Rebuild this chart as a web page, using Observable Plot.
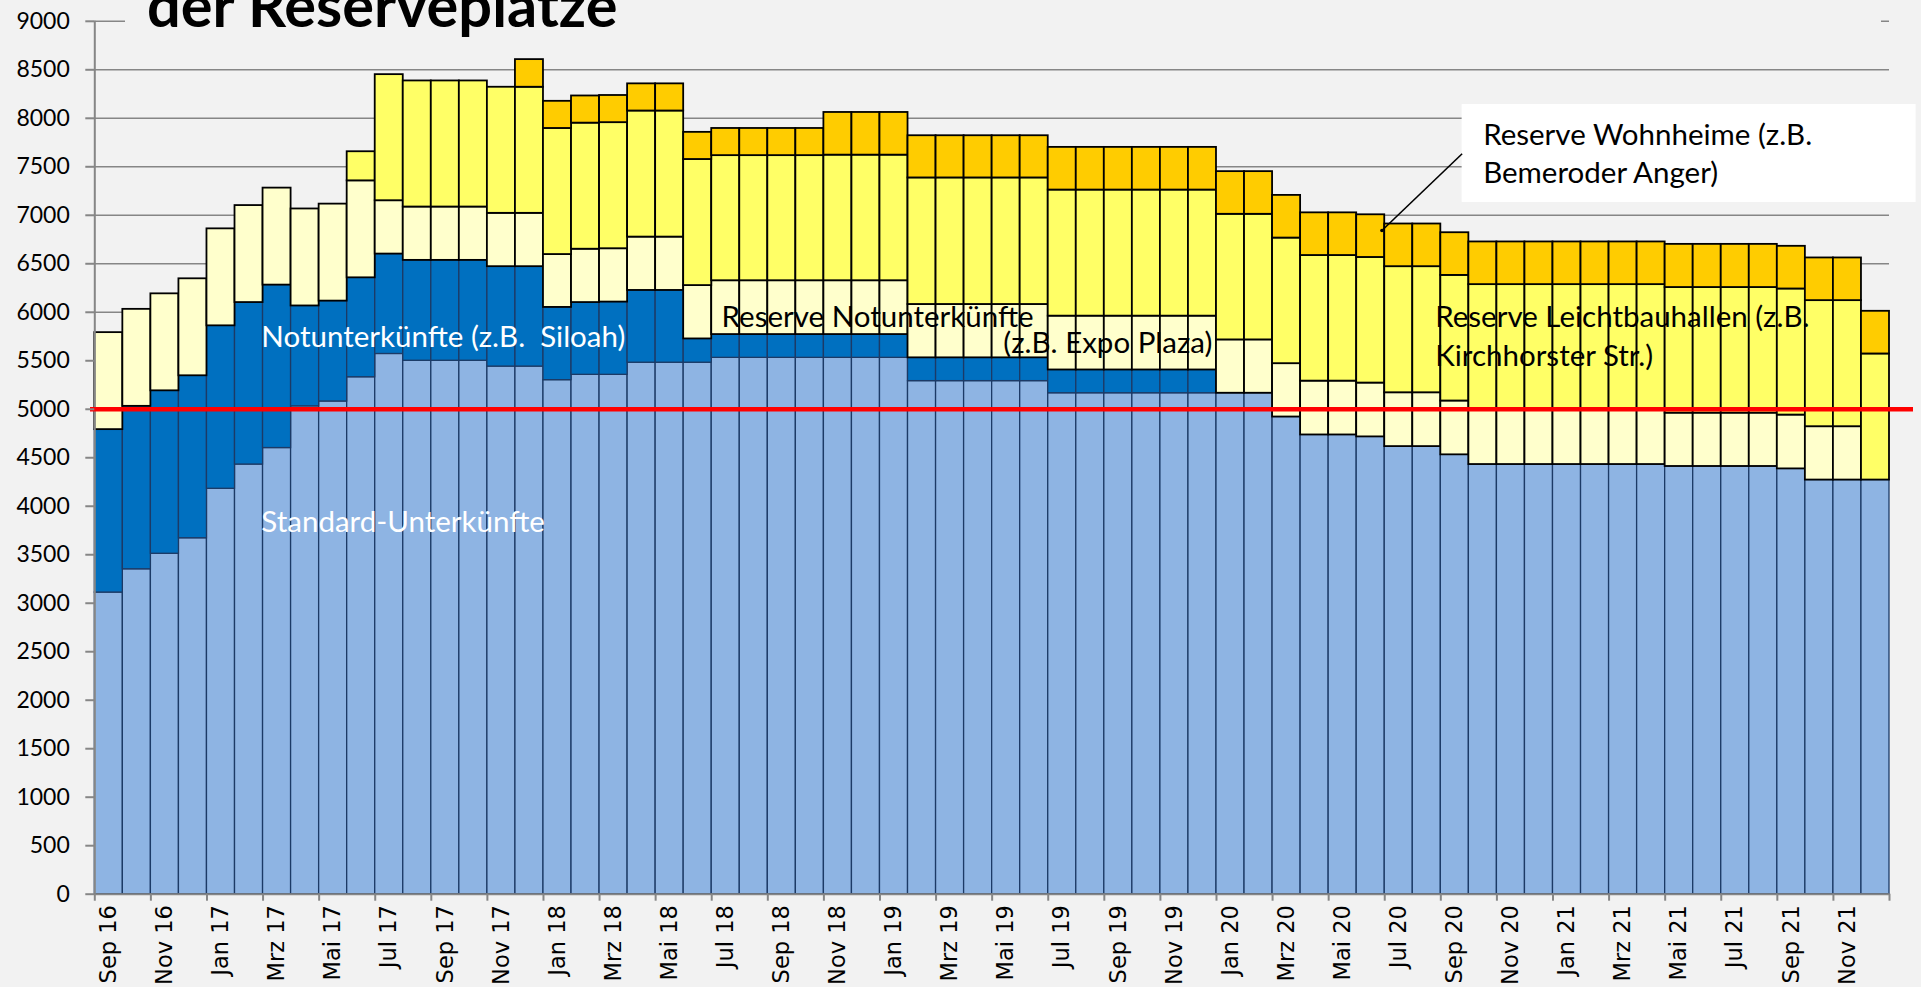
<!DOCTYPE html>
<html>
<head>
<meta charset="utf-8">
<script src="https://cdn.jsdelivr.net/npm/d3@7"></script>
<script src="https://cdn.jsdelivr.net/npm/@observablehq/plot@0.6"></script>
<style>
  html, body { margin: 0; padding: 0; background: #f2f2f2; }
  #wrap { position: relative; width: 1921px; height: 987px; overflow: hidden; background: #f2f2f2; }
  #overlay { position: absolute; left: 0; top: 0; pointer-events: none; }
</style>
</head>
<body>
<div id="wrap"></div>
<script>
// ---------- data ----------
const months = [
  "Sep 16","Okt 16","Nov 16","Dez 16",
  "Jan 17","Feb 17","Mrz 17","Apr 17","Mai 17","Jun 17","Jul 17","Aug 17","Sep 17","Okt 17","Nov 17","Dez 17",
  "Jan 18","Feb 18","Mrz 18","Apr 18","Mai 18","Jun 18","Jul 18","Aug 18","Sep 18","Okt 18","Nov 18","Dez 18",
  "Jan 19","Feb 19","Mrz 19","Apr 19","Mai 19","Jun 19","Jul 19","Aug 19","Sep 19","Okt 19","Nov 19","Dez 19",
  "Jan 20","Feb 20","Mrz 20","Apr 20","Mai 20","Jun 20","Jul 20","Aug 20","Sep 20","Okt 20","Nov 20","Dez 20",
  "Jan 21","Feb 21","Mrz 21","Apr 21","Mai 21","Jun 21","Jul 21","Aug 21","Sep 21","Okt 21","Nov 21","Dez 21"
];
const tickLabels = [
  "Sep 16","Nov 16","Jan 17","Mrz 17","Mai 17","Jul 17","Sep 17","Nov 17",
  "Jan 18","Mrz 18","Mai 18","Jul 18","Sep 18","Nov 18","Jan 19","Mrz 19",
  "Mai 19","Jul 19","Sep 19","Nov 19","Jan 20","Mrz 20","Mai 20","Jul 20",
  "Sep 20","Nov 20","Jan 21","Mrz 21","Mai 21","Jul 21","Sep 21","Nov 21"
];
const yTicks = [0,500,1000,1500,2000,2500,3000,3500,4000,4500,5000,5500,6000,6500,7000,7500,8000,8500,9000];

const standardUnterkuenfte = [
  3110, 3350, 3510, 3670,
  4180, 4430, 4600, 5030, 5080, 5330, 5570, 5500, 5500, 5500, 5440, 5440,
  5300, 5355, 5355, 5480, 5480, 5480, 5530, 5530, 5530, 5530, 5530, 5530,
  5530, 5290, 5290, 5290, 5290, 5290, 5165, 5165, 5165, 5165, 5165, 5165,
  5165, 5165, 4920, 4735, 4735, 4715, 4615, 4615, 4530, 4430, 4430, 4430,
  4430, 4430, 4430, 4430, 4410, 4410, 4410, 4410, 4385, 4270, 4270, 4270
];
const notunterkuenfte = [
  1680, 1680, 1680, 1675,
  1680, 1670, 1680, 1035, 1035, 1025, 1030, 1035, 1035, 1035, 1030, 1030,
  750, 745, 750, 745, 745, 245, 240, 240, 240, 240, 240, 240,
  240, 240, 240, 240, 240, 240, 240, 240, 240, 240, 240, 240,
  0, 0, 0, 0, 0, 0, 0, 0, 0, 0, 0, 0,
  0, 0, 0, 0, 0, 0, 0, 0, 0, 0, 0, 0
];
const reserveNotunterkuenfte = [
  1000, 1000, 1000, 1000,
  1000, 1000, 1000, 1000, 1000, 1000, 550, 550, 550, 550, 550, 550,
  545, 550, 550, 550, 550, 550, 555, 555, 555, 555, 555, 555,
  555, 550, 550, 550, 550, 550, 555, 555, 555, 555, 555, 555,
  550, 550, 550, 555, 555, 555, 555, 555, 555, 560, 560, 560,
  560, 560, 560, 560, 550, 550, 550, 550, 555, 550, 550, 0
];
const reserveLeichtbauhallen = [
  0, 0, 0, 0,
  0, 0, 0, 0, 0, 300, 1300, 1300, 1300, 1300, 1300, 1300,
  1300, 1300, 1300, 1300, 1300, 1300, 1290, 1290, 1290, 1290, 1295, 1295,
  1295, 1305, 1305, 1305, 1305, 1305, 1300, 1300, 1300, 1300, 1300, 1300,
  1295, 1295, 1295, 1295, 1295, 1295, 1300, 1300, 1295, 1295, 1295, 1295,
  1295, 1295, 1295, 1295, 1295, 1295, 1295, 1295, 1300, 1300, 1300, 1300
];
const reserveWohnheime = [
  0, 0, 0, 0,
  0, 0, 0, 0, 0, 0, 0, 0, 0, 0, 0, 285,
  280, 280, 280, 280, 280, 280, 280, 280, 280, 280, 440, 440,
  440, 435, 435, 435, 435, 435, 440, 440, 440, 440, 440, 440,
  440, 440, 440, 440, 440, 440, 440, 440, 440, 440, 440, 440,
  440, 440, 440, 440, 445, 445, 445, 445, 440, 440, 440, 440
];
const seriesNames = ["Standard-Unterkünfte", "Notunterkünfte", "Reserve Notunterkünfte", "Reserve Leichtbauhallen", "Reserve Wohnheime"];
const seriesValues = [standardUnterkuenfte, notunterkuenfte, reserveNotunterkuenfte, reserveLeichtbauhallen, reserveWohnheime];
const threshold = 5000;

// ---------- styles ----------
const fillOf = {
  "Standard-Unterkünfte": "#8eb4e3",
  "Notunterkünfte": "#0070c0",
  "Reserve Notunterkünfte": "#ffffcc",
  "Reserve Leichtbauhallen": "#ffff66",
  "Reserve Wohnheime": "#ffcc00"
};
const strokeOf = {
  "Standard-Unterkünfte": "#1c3a66",
  "Notunterkünfte": "#1c3a66",
  "Reserve Notunterkünfte": "#000000",
  "Reserve Leichtbauhallen": "#000000",
  "Reserve Wohnheime": "#000000"
};
const strokeWidthOf = {
  "Standard-Unterkünfte": 1.3,
  "Notunterkünfte": 1.3,
  "Reserve Notunterkünfte": 1.8,
  "Reserve Leichtbauhallen": 1.8,
  "Reserve Wohnheime": 1.8
};

// table for the stacked bars (series by series so the outlines layer correctly)
const rows = [];
seriesNames.forEach((s, k) => {
  months.forEach((m, i) => {
    const v = seriesValues[k][i];
    if (v > 0) rows.push({i, month: m, series: s, value: v});
  });
});

// annotations (layout in data coordinates)
const annoFont = "Lato, 'Open Sans', sans-serif";
const annotations = [
  {x: 5.94, y: 5647, text: "Notunterkünfte (z.B.  Siloah)", color: "white"},
  {x: 5.94, y: 3739, text: "Standard-Unterkünfte", color: "white"},
  {x: 22.35, y: 5843, text: "Reserve Notunterkünfte", color: "black"},
  {x: 32.40, y: 5585, text: "(z.B. Expo Plaza)", color: "black"},
  {x: 47.80, y: 5451, text: "Reserve Leichtbauhallen (z.B.\nKirchhorster Str.)", color: "black"},
  {x: 49.51, y: 7328, text: "Reserve Wohnheime (z.B.\nBemeroder Anger)", color: "black"}
];
const calloutBox = [{x1: 48.76, x2: 64.95, y1: 7132, y2: 8142}];
const calloutLeader = [{x1: 48.76, y1: 7634, x2: 45.90, y2: 6843}];

const tickEdges = tickLabels.map(l => months.indexOf(l)).concat([months.length]);
const labelPos = tickLabels.map(l => months.indexOf(l) + 0.5);

const chart = Plot.plot({
  width: 1921,
  height: 987,
  marginTop: 20.8,
  marginBottom: 93.3,
  marginLeft: 94.3,
  marginRight: 32,
  style: {background: "#f2f2f2", fontFamily: "Lato, sans-serif", overflow: "visible"},
  x: {domain: [0, months.length], axis: null},
  y: {domain: [0, 9000], axis: null},
  color: {type: "identity"},
  marks: [
    Plot.gridY(yTicks, {stroke: "#868686", strokeOpacity: 1, strokeWidth: 1.6}),
    Plot.rectY(rows, {
      x1: "i",
      x2: d => d.i + 1,
      y: "value",
      z: "series",
      fill: d => fillOf[d.series],
      stroke: d => strokeOf[d.series],
      strokeWidth: d => strokeWidthOf[d.series]
    }),
    Plot.ruleY([0], {stroke: "#868686", strokeWidth: 2}),
    Plot.ruleX([0], {stroke: "#868686", strokeWidth: 2}),
    Plot.ruleY([threshold], {stroke: "#ff0000", strokeWidth: 4.5, insetLeft: -4.3, insetRight: -24}),
    Plot.axisY(yTicks, {
      tickSize: 9, tickPadding: 16, stroke: "#868686", strokeWidth: 2,
      tickFormat: d => String(d),
      fill: "black", fontSize: 23, fontFamily: "Lato, sans-serif", label: null
    }),
    Plot.axisX(tickEdges, {tickSize: 7, stroke: "#868686", strokeWidth: 2, tickFormat: () => "", label: null}),
    Plot.axisX(labelPos, {
      tickSize: 0, tickPadding: 11, tickRotate: -90,
      tickFormat: v => months[Math.floor(v)],
      fill: "black", fontSize: 22.5, fontFamily: "'DejaVu Sans', Verdana, sans-serif", label: null
    }),
    Plot.rect(calloutBox, {x1: "x1", x2: "x2", y1: "y1", y2: "y2", fill: "white"}),
    Plot.link(calloutLeader, {x1: "x1", y1: "y1", x2: "x2", y2: "y2", stroke: "black", strokeWidth: 1.6}),
    Plot.dot(calloutLeader, {x: "x2", y: "y2", r: 1.8, fill: "black"}),
    Plot.text(annotations, {
      x: "x", y: "y", text: "text", fill: "color",
      textAnchor: "start", lineAnchor: "bottom", lineHeight: 1.31,
      fontSize: 29.5, fontFamily: annoFont
    })
  ]
});

const wrap = document.getElementById("wrap");
wrap.appendChild(chart);

// title strip (second line of the slide title, cut at the top edge)
const ns = "http://www.w3.org/2000/svg";
const ov = document.createElementNS(ns, "svg");
ov.setAttribute("id", "overlay");
ov.setAttribute("width", 1921);
ov.setAttribute("height", 60);
const r = document.createElementNS(ns, "rect");
r.setAttribute("x", 125); r.setAttribute("y", 0);
r.setAttribute("width", 1756); r.setAttribute("height", 33);
r.setAttribute("fill", "#f2f2f2");
ov.appendChild(r);
const t = document.createElementNS(ns, "text");
t.setAttribute("x", 147); t.setAttribute("y", 27);
t.setAttribute("font-family", "Lato, sans-serif");
t.setAttribute("font-weight", "700");
t.setAttribute("font-size", "59.5");
t.setAttribute("fill", "#000");
t.textContent = "der Reserveplätze";
ov.appendChild(t);
wrap.appendChild(ov);
</script>
</body>
</html>
